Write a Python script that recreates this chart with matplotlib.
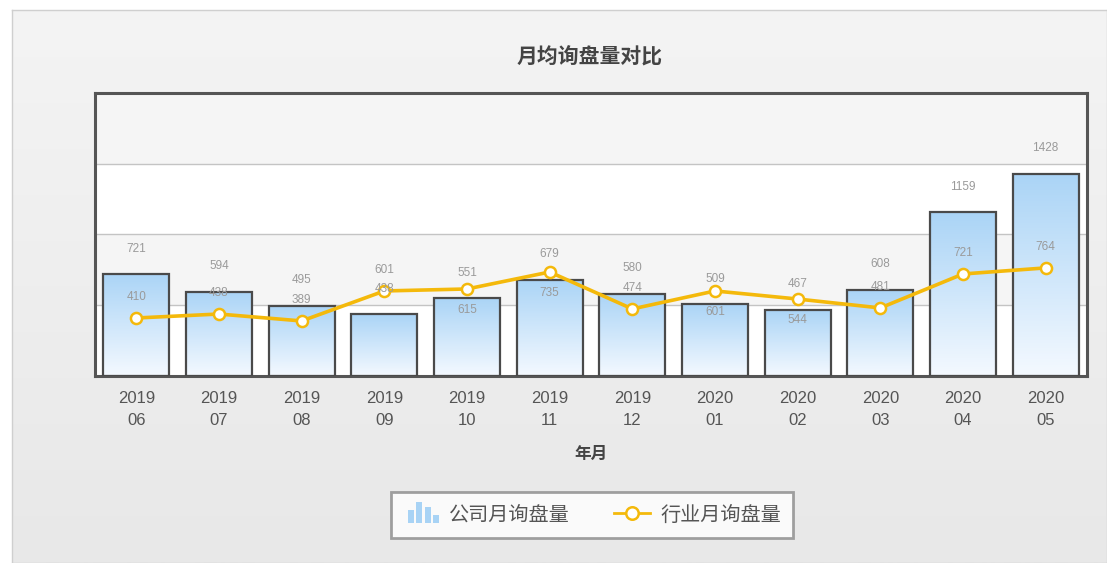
import numpy as np
import matplotlib
matplotlib.use("Agg")
import matplotlib.pyplot as plt
from matplotlib.patches import Rectangle
from matplotlib.legend_handler import HandlerBase
from matplotlib.lines import Line2D

plt.rcParams['font.family'] = ['Noto Sans CJK SC', 'DejaVu Sans']

categories = ["2019\n06", "2019\n07", "2019\n08", "2019\n09", "2019\n10", "2019\n11",
              "2019\n12", "2020\n01", "2020\n02", "2020\n03", "2020\n04", "2020\n05"]
company = [721, 594, 495, 438, 551, 679, 580, 509, 467, 608, 1159, 1428]
industry = [410, 438, 389, 601, 615, 735, 474, 601, 544, 481, 721, 764]
title = "月均询盘量对比"
xlabel = "年月"
series_names = ["公司月询盘量", "行业月询盘量"]
y_max = 2000
y_step = 500

fig = plt.figure(figsize=(11.07, 5.63), dpi=100)
fig.patch.set_facecolor("white")

# outer panel with soft gradient
bg = fig.add_axes([12 / 1107, 0, 1 - 12 / 1107, 1 - 10 / 563], zorder=-5)
grad = np.linspace(0, 1, 256).reshape(-1, 1)
bg.imshow(grad, aspect="auto", cmap=matplotlib.colors.LinearSegmentedColormap.from_list(
    "bgc", ["#f4f4f4", "#e8e8e8"]), extent=[0, 1, 0, 1], origin="upper")
bg.set_xticks([]); bg.set_yticks([])
for s in bg.spines.values():
    s.set_color("#cfcfcf"); s.set_linewidth(1)

ax = fig.add_axes([95 / 1107, 187 / 563, 992 / 1107, 283 / 563])
x = np.arange(len(categories))
ax.set_facecolor("white")

# alternating bands
for i, lo in enumerate(range(0, y_max, y_step)):
    if i % 2 == 1:
        ax.axhspan(lo, lo + y_step, color="#f5f5f5", zorder=0, lw=0)
for g in range(y_step, y_max, y_step):
    ax.axhline(g, color="#c4c4c4", lw=1, zorder=0.5)

bars = ax.bar(x, company, width=0.8, facecolor="none", edgecolor="#4a4a4a", linewidth=1.6, zorder=3)
cmap_bar = matplotlib.colors.LinearSegmentedColormap.from_list("barc", ["#aad4f6", "#f4f9ff"])
for b in bars:
    x0, w, h = b.get_x(), b.get_width(), b.get_height()
    im = ax.imshow(grad, aspect="auto", cmap=cmap_bar, extent=[x0, x0 + w, 0, h],
                   origin="upper", zorder=2)
    im.set_clip_path(b)
ax.set_aspect("auto")
ax.set_xlim(-0.5, len(categories) - 0.5)
ax.set_ylim(0, y_max)

ax.plot(x, industry, color="#f4b90b", lw=2.6, marker="o", markersize=8,
        markerfacecolor="white", markeredgecolor="#f4b90b", markeredgewidth=1.8, zorder=5)

# value labels
lab_kw = dict(ha="center", va="center", fontsize=8.5, color="#9a9a9a", zorder=6,
              family=["Liberation Sans", "DejaVu Sans"])
for xi, bv, lv in zip(x, company, industry):
    bar_pos = bv + 180
    ax.text(xi, bar_pos, str(bv), **lab_kw)
    above = lv + 150
    if abs(above - bar_pos) < 125:
        ax.text(xi, lv - 150, str(lv), **lab_kw)
    else:
        ax.text(xi, above, str(lv), **lab_kw)

ax.set_xticks(x)
ax.set_xticklabels(categories, fontsize=12, color="#555555", linespacing=1.55,
                   family=["Liberation Sans", "DejaVu Sans"])
ax.tick_params(axis="x", length=0, pad=11)
ax.set_yticks([])
for s in ax.spines.values():
    s.set_color("#555555"); s.set_linewidth(2.2)
ax.set_xlabel(xlabel, fontsize=12, fontweight="bold", color="#444444", labelpad=12)

fig.text(590 / 1107, 1 - 57 / 563, title, ha="center", va="center", fontsize=15,
         fontweight="bold", color="#444444")


class BarIconHandler(HandlerBase):
    def create_artists(self, legend, orig_handle, xdescent, ydescent, width, height, fontsize, trans):
        arts = []
        bw = width / 6.0
        hs = [0.6, 1.0, 0.75, 0.35]
        for i, hh in enumerate(hs):
            r = Rectangle((xdescent + width * 0.15 + i * bw * 1.35, -ydescent - height * 0.15),
                          bw, height * 1.45 * hh,
                          facecolor="#a8d3f5", edgecolor="none", transform=trans)
            arts.append(r)
        return arts


bar_handle = Rectangle((0, 0), 1, 1)
line_handle = Line2D([0], [0], color="#f4b90b", lw=2, marker="o", markersize=9,
                     markerfacecolor="white", markeredgecolor="#f4b90b", markeredgewidth=1.8)
leg = fig.legend([bar_handle, line_handle], series_names, loc="center",
                 bbox_to_anchor=(592 / 1107, 1 - 515 / 563), ncol=2, fontsize=14.5,
                 handler_map={Rectangle: BarIconHandler()}, frameon=True, fancybox=False,
                 shadow=False, edgecolor="#8a8a8a", handlelength=1.8, columnspacing=2.2,
                 borderpad=0.6, handletextpad=0.5, borderaxespad=0)
leg.get_frame().set_linewidth(2)
for t in leg.get_texts():
    t.set_color("#555555")

fig.savefig("out.png", dpi=100)
